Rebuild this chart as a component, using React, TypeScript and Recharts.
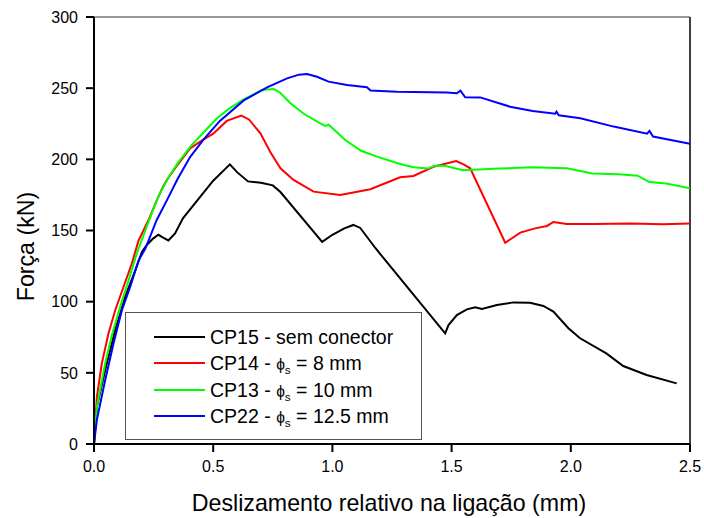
import React from 'react';
import { LineChart, Line, XAxis, YAxis, ReferenceLine } from 'recharts';

// Força x deslizamento relativo
const cp15X = [0, 0.012, 0.047, 0.089, 0.131, 0.173, 0.201, 0.222, 0.249, 0.27, 0.29, 0.312, 0.34, 0.373, 0.5, 0.57, 0.6, 0.646, 0.7, 0.75, 0.782, 0.957, 1.0, 1.05, 1.088, 1.117, 1.18, 1.473, 1.487, 1.522, 1.564, 1.599, 1.627, 1.69, 1.76, 1.829, 1.885, 1.927, 1.99, 2.039, 2.149, 2.22, 2.318, 2.444];
const cp15Y = [0, 26, 52, 80, 103.6, 122, 135, 140, 144.5, 147, 145, 143, 148, 158.6, 185, 196.5, 191, 184.5, 183.5, 181.7, 177, 142, 147, 151.5, 153.9, 151.8, 137.7, 77.8, 83.6, 90.6, 94.6, 96, 94.8, 97.7, 99.5, 99.3, 97, 93, 81.3, 74.3, 63.7, 54.8, 48.5, 42.6];

const cp14X = [0, 0.012, 0.033, 0.061, 0.089, 0.124, 0.159, 0.187, 0.228, 0.26, 0.29, 0.31, 0.35, 0.403, 0.45, 0.5, 0.557, 0.618, 0.65, 0.698, 0.74, 0.782, 0.837, 0.921, 1.033, 1.159, 1.284, 1.34, 1.424, 1.519, 1.55, 1.578, 1.725, 1.788, 1.85, 1.9, 1.927, 1.983, 2.1, 2.25, 2.387, 2.5];
const cp14Y = [0, 33, 56.7, 77.8, 94, 110.5, 127, 143, 157, 170, 181, 186.6, 196, 207.7, 213, 218, 227, 230.7, 228, 218.3, 205, 193.7, 185.5, 177.3, 175, 179, 187.4, 188.3, 194.8, 198.8, 196.5, 193.7, 141.4, 148.5, 151.5, 153.2, 156, 154.6, 154.5, 155, 154.4, 155];

const cp13X = [0, 0.012, 0.047, 0.075, 0.11, 0.145, 0.18, 0.215, 0.237, 0.27, 0.314, 0.35, 0.404, 0.46, 0.516, 0.57, 0.628, 0.705, 0.754, 0.78, 0.824, 0.88, 0.949, 0.97, 0.984, 1.054, 1.12, 1.187, 1.284, 1.34, 1.4, 1.43, 1.47, 1.548, 1.7, 1.83, 1.984, 2.09, 2.2, 2.28, 2.33, 2.4, 2.5];
const cp13Y = [0, 26, 56.7, 76.6, 96.5, 115, 134, 150, 159.7, 174, 187.8, 197, 208.9, 219, 228.8, 236, 242.2, 248.7, 249.4, 247, 239.4, 232, 225.3, 223.5, 224.3, 213.6, 206, 201.9, 196.7, 194.4, 193.5, 195.5, 195.5, 192.3, 193.5, 194.4, 193.7, 190, 189.5, 188.5, 184, 183, 179.6];

const cp22X = [0, 0.012, 0.047, 0.082, 0.117, 0.152, 0.187, 0.216, 0.263, 0.305, 0.35, 0.403, 0.46, 0.528, 0.628, 0.726, 0.81, 0.86, 0.894, 0.935, 0.984, 1.061, 1.145, 1.16, 1.27, 1.48, 1.522, 1.537, 1.557, 1.62, 1.745, 1.84, 1.935, 1.94, 1.95, 2.04, 2.18, 2.32, 2.33, 2.345, 2.5];
const cp22Y = [0, 17, 45, 70.7, 94, 110.5, 129, 137.5, 157.4, 171, 186, 201.6, 214, 227, 241.4, 250.6, 256.9, 259.5, 260, 258, 254.6, 252.2, 250.6, 248.4, 247.5, 247, 246.4, 248.2, 243.6, 243.5, 237, 234, 232, 233.5, 231, 228.8, 223, 218, 220, 216, 211];

const seriesNames = ['CP15 - sem conector', 'CP14', 'CP13', 'CP22'];
const seriesDiameters = ['', '8 mm', '10 mm', '12.5 mm'];
const seriesColors = ['#000000', '#ff0000', '#00ff00', '#0000ff'];

const xMajorTicks = [0, 0.5, 1, 1.5, 2, 2.5];
const xMinorTicks = [0, 0.1, 0.2, 0.3, 0.4, 0.5, 0.6, 0.7, 0.8, 0.9, 1, 1.1, 1.2, 1.3, 1.4, 1.5, 1.6, 1.7, 1.8, 1.9, 2, 2.1, 2.2, 2.3, 2.4, 2.5];
const yMajorTicks = [0, 50, 100, 150, 200, 250, 300];
const yMinorTicks = [0, 10, 20, 30, 40, 50, 60, 70, 80, 90, 100, 110, 120, 130, 140, 150, 160, 170, 180, 190, 200, 210, 220, 230, 240, 250, 260, 270, 280, 290, 300];

const FONT = '"Liberation Sans", Arial, sans-serif';

function toPoints(xs: number[], ys: number[]) {
  return xs.map((x, i) => ({ x, y: ys[i] }));
}

const series = [
  toPoints(cp15X, cp15Y),
  toPoints(cp14X, cp14Y),
  toPoints(cp13X, cp13Y),
  toPoints(cp22X, cp22Y),
];

const tickStyle = { fill: '#000', fontSize: 16, fontFamily: FONT };
const tickLineStyle = { stroke: '#000', strokeWidth: 2 };

function XTitle(props: any) {
  const vb = props.viewBox || { x: 94, y: 444, width: 596, height: 74 };
  return (
    <text x={vb.x + vb.width / 2 - 3} y={vb.y + 67} textAnchor="middle" fontSize={23.2} fontFamily={FONT} fill="#000">
      Deslizamento relativo na ligação (mm)
    </text>
  );
}

function YTitle(props: any) {
  const vb = props.viewBox || { x: 0, y: 17, width: 94, height: 427 };
  const cx = vb.x + 33.5;
  const cy = vb.y + vb.height / 2 + 16;
  return (
    <text x={cx} y={cy} transform={`rotate(-90 ${cx} ${cy})`} textAnchor="middle" fontSize={23.2} fontFamily={FONT} fill="#000">
      Força (kN)
    </text>
  );
}

function LegendBox() {
  return (
    <div
      style={{
        position: 'absolute',
        left: 125,
        top: 312,
        width: 297,
        height: 128,
        boxSizing: 'border-box',
        border: '1.5px solid #555',
        background: '#fff',
        fontFamily: FONT,
        fontSize: 19.5,
        color: '#000',
      }}
    >
      {seriesNames.map((name, i) => (
        <div key={name} style={{ position: 'absolute', left: 0, top: 11 + i * 26.3, height: 26, width: '100%' }}>
          <div style={{ position: 'absolute', left: 28, top: 12, width: 51, height: 2, background: seriesColors[i] }} />
          <div style={{ position: 'absolute', left: 84, top: 0, lineHeight: '26px', whiteSpace: 'nowrap' }}>
            {seriesDiameters[i] ? (
              <>
                {name} - <span style={{ fontSize: '0.8em' }}>ϕ</span>
                <sub style={{ fontSize: '0.6em', verticalAlign: '-0.35em' }}>s</sub> = {seriesDiameters[i]}
              </>
            ) : (
              name
            )}
          </div>
        </div>
      ))}
    </div>
  );
}

export default function App() {
  return (
    <div style={{ position: 'absolute', left: 0, top: 0, width: 704, height: 518, background: '#fff' }}>
      <LineChart width={704} height={518} margin={{ top: 17, right: 14, bottom: 0, left: 0 }}>
        <XAxis
          xAxisId="minor"
          type="number"
          dataKey="x"
          domain={[0, 2.5]}
          ticks={xMinorTicks}
          interval={0}
          height={0}
          tickSize={4}
          tickFormatter={() => ''}
          axisLine={false}
          tickLine={tickLineStyle}
          allowDataOverflow
        />
        <XAxis
          xAxisId="main"
          type="number"
          dataKey="x"
          domain={[0, 2.5]}
          ticks={xMajorTicks}
          interval={0}
          height={74}
          tickSize={8}
          tickMargin={9}
          tick={tickStyle}
          tickFormatter={(v) => Number(v).toFixed(1)}
          axisLine={{ stroke: '#000', strokeWidth: 2 }}
          tickLine={tickLineStyle}
          allowDataOverflow
          label={{ content: XTitle }}
        />
        <YAxis
          yAxisId="minor"
          type="number"
          domain={[0, 300]}
          ticks={yMinorTicks}
          interval={0}
          width={0}
          tickSize={4}
          tickFormatter={() => ''}
          axisLine={false}
          tickLine={tickLineStyle}
          allowDataOverflow
        />
        <YAxis
          yAxisId="main"
          type="number"
          domain={[0, 300]}
          ticks={yMajorTicks}
          interval={0}
          width={94}
          tickSize={8}
          tickMargin={8}
          tick={tickStyle}
          axisLine={{ stroke: '#000', strokeWidth: 2 }}
          tickLine={tickLineStyle}
          allowDataOverflow
          label={{ content: YTitle }}
        />
        <ReferenceLine xAxisId="main" yAxisId="main" x={2.5} stroke="#000" strokeWidth={1.5} />
        <ReferenceLine xAxisId="main" yAxisId="main" y={300} stroke="#333" strokeWidth={1} />
        {series.map((data, i) => (
          <Line
            key={seriesNames[i]}
            xAxisId="main"
            yAxisId="main"
            data={data}
            dataKey="y"
            type="linear"
            stroke={seriesColors[i]}
            strokeWidth={2}
            dot={false}
            activeDot={false}
            isAnimationActive={false}
          />
        ))}
      </LineChart>
      <LegendBox />
    </div>
  );
}
